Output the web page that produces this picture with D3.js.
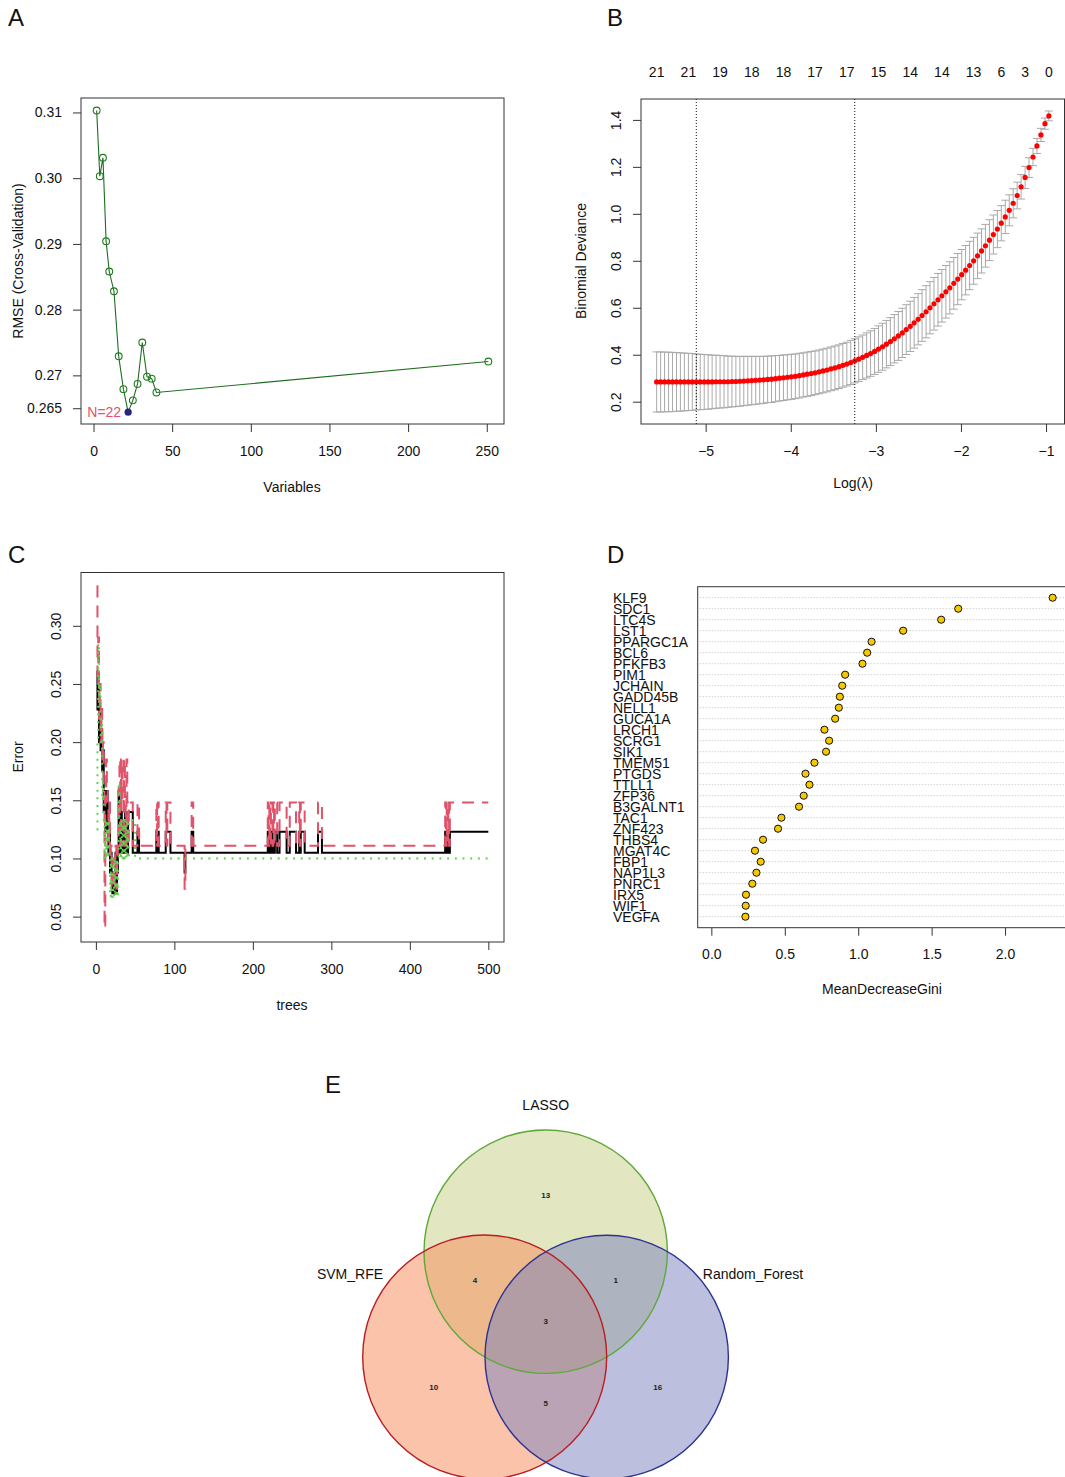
<!DOCTYPE html>
<html><head><meta charset="utf-8">
<script src="https://cdn.jsdelivr.net/npm/d3@7"></script>
<style>
body{margin:0;background:#fff;}
svg{display:block;font-family:"Liberation Sans",Arial,Helvetica,sans-serif;}
</style></head><body>
<svg id="fig" width="1065" height="1477"></svg>
<script>
// ---------- Panel A: SVM-RFE ----------
const rfeSizes = [2,4,6,8,10,13,16,19,22,25,28,31,34,37,40,251];
const rfeRMSE  = [0.3103,0.3003,0.3031,0.2904,0.2858,0.2828,0.2729,0.2679,0.2644,0.2662,0.2687,0.2750,0.2698,0.2695,0.2674,0.2721];
const rfeBest = 22;
const rfeXTicks = [0,50,100,150,200,250];
const rfeYTicks = [0.265,0.27,0.28,0.29,0.30,0.31];
const rfeYTickLabels = ["0.265","0.27","0.28","0.29","0.30","0.31"];

// ---------- Panel B: LASSO cv ----------
const logLambda = [-5.576,-5.529,-5.483,-5.436,-5.390,-5.343,-5.297,-5.250,-5.203,-5.157,
  -5.110,-5.064,-5.017,-4.971,-4.924,-4.878,-4.831,-4.784,-4.738,-4.691,
  -4.645,-4.598,-4.552,-4.505,-4.459,-4.412,-4.365,-4.319,-4.272,-4.226,
  -4.179,-4.133,-4.086,-4.040,-3.993,-3.946,-3.900,-3.853,-3.807,-3.760,
  -3.714,-3.667,-3.621,-3.574,-3.527,-3.481,-3.434,-3.388,-3.341,-3.295,
  -3.248,-3.202,-3.155,-3.108,-3.062,-3.015,-2.969,-2.922,-2.876,-2.829,
  -2.783,-2.736,-2.689,-2.643,-2.596,-2.550,-2.503,-2.457,-2.410,-2.364,
  -2.317,-2.270,-2.224,-2.177,-2.131,-2.084,-2.038,-1.991,-1.945,-1.898,
  -1.851,-1.805,-1.758,-1.712,-1.665,-1.619,-1.572,-1.526,-1.479,-1.432,
  -1.386,-1.339,-1.293,-1.246,-1.200,-1.153,-1.107,-1.060,-1.013,-0.967];
const cvMean = [0.284,0.284,0.284,0.284,0.284,0.284,0.284,0.284,0.284,0.284,
  0.284,0.284,0.284,0.284,0.284,0.285,0.285,0.285,0.285,0.286,
  0.286,0.287,0.288,0.289,0.290,0.291,0.292,0.293,0.295,0.296,
  0.298,0.300,0.302,0.304,0.306,0.308,0.311,0.314,0.317,0.320,
  0.323,0.327,0.331,0.335,0.340,0.344,0.349,0.355,0.360,0.367,
  0.374,0.381,0.389,0.397,0.405,0.414,0.424,0.434,0.445,0.456,
  0.468,0.480,0.493,0.507,0.521,0.536,0.551,0.567,0.583,0.600,
  0.617,0.634,0.651,0.668,0.685,0.704,0.722,0.741,0.760,0.780,
  0.800,0.821,0.842,0.864,0.888,0.912,0.935,0.960,0.987,1.015,
  1.045,1.078,1.115,1.155,1.197,1.242,1.289,1.336,1.384,1.417];
const cvSD = [0.128,0.128,0.127,0.127,0.126,0.125,0.124,0.123,0.122,0.121,
  0.119,0.118,0.117,0.116,0.114,0.113,0.112,0.111,0.109,0.108,
  0.107,0.106,0.105,0.104,0.103,0.102,0.101,0.100,0.099,0.099,
  0.098,0.097,0.097,0.096,0.096,0.095,0.095,0.094,0.094,0.094,
  0.093,0.093,0.093,0.093,0.093,0.093,0.093,0.093,0.093,0.094,
  0.094,0.095,0.095,0.096,0.097,0.098,0.099,0.100,0.101,0.102,
  0.103,0.104,0.105,0.106,0.107,0.108,0.109,0.110,0.111,0.111,
  0.112,0.112,0.112,0.112,0.111,0.110,0.109,0.107,0.105,0.103,
  0.100,0.097,0.094,0.091,0.087,0.083,0.079,0.075,0.071,0.066,
  0.062,0.057,0.052,0.047,0.042,0.037,0.032,0.028,0.024,0.021];
const lambdaMinLog = -5.110;
const lambda1seLog = -3.248;
const nzLabelPos = [-5.576,-5.203,-4.831,-4.459,-4.086,-3.714,-3.341,-2.969,-2.596,-2.224,-1.851,-1.526,-1.246,-0.967];
const nzLabels = ["21","21","19","18","18","17","17","15","14","14","13","6","3","0"];
const lassoXTicks = [-5,-4,-3,-2,-1];
const lassoYTicks = [0.2,0.4,0.6,0.8,1.0,1.2,1.4];

// ---------- Panel C: random forest error (step breakpoints [tree, error]) ----------
const rfOOB = [[1,0.261],[2,0.228],[3,0.245],[4,0.2],[5,0.228],[6,0.193],[7,0.21],[8,0.175],[9,0.193],[10,0.14],
  [11,0.158],[12,0.123],[13,0.14],[14,0.158],[15,0.123],[16,0.105],[17,0.123],[18,0.088],[19,0.105],[20,0.088],
  [21,0.07],[22,0.088],[23,0.07],[24,0.088],[25,0.105],[26,0.07],[27,0.088],[28,0.105],[29,0.158],[30,0.123],
  [31,0.105],[32,0.14],[33,0.105],[34,0.123],[35,0.105],[36,0.123],[37,0.14],[38,0.105],[39,0.123],[40,0.105],
  [41,0.14],[47,0.105],[53,0.123],[55,0.105],[77,0.123],[78,0.105],[79,0.123],[80,0.105],[89,0.123],[95,0.105],
  [113,0.088],[114,0.105],[122,0.123],[124,0.105],[219,0.123],[220,0.105],[221,0.123],[222,0.105],[223,0.123],[225,0.105],
  [226,0.123],[227,0.105],[228,0.123],[231,0.105],[234,0.123],[243,0.105],[247,0.123],[255,0.105],[259,0.123],[260,0.105],
  [261,0.123],[266,0.105],[283,0.123],[288,0.105],[445,0.123],[446,0.105],[447,0.123],[448,0.105],[449,0.123],[450,0.105],[451,0.123]];
const rfClass1 = [[1,0.334],[2,0.25],[3,0.29],[4,0.22],[5,0.25],[6,0.2],[7,0.23],[8,0.185],[9,0.2],[10,0.16],
  [11,0.04],[12,0.148],[13,0.185],[14,0.16],[15,0.148],[16,0.111],[17,0.148],[18,0.1],[19,0.111],[20,0.074],
  [21,0.074],[22,0.1],[23,0.074],[24,0.1],[25,0.111],[26,0.074],[27,0.1],[28,0.111],[29,0.16],[30,0.185],
  [31,0.111],[32,0.185],[33,0.148],[34,0.185],[35,0.111],[36,0.185],[37,0.148],[38,0.111],[39,0.185],[40,0.148],
  [41,0.111],[42,0.148],[47,0.111],[53,0.148],[55,0.111],[77,0.148],[78,0.111],[79,0.148],[80,0.111],[89,0.148],
  [90,0.111],[91,0.148],[95,0.111],[113,0.074],[114,0.111],[122,0.148],[124,0.111],[219,0.148],[220,0.111],[221,0.148],
  [222,0.111],[223,0.148],[225,0.111],[226,0.148],[227,0.111],[228,0.148],[231,0.111],[234,0.148],[243,0.111],[247,0.148],
  [255,0.111],[259,0.148],[260,0.111],[261,0.148],[266,0.111],[283,0.148],[288,0.111],[445,0.148],[446,0.111],[447,0.148],
  [448,0.111],[449,0.148],[450,0.111],[451,0.148]];
const rfClass2 = [[1,0.125],[2,0.2],[3,0.285],[4,0.235],[5,0.25],[6,0.2],[7,0.22],[8,0.15],[9,0.165],[10,0.13],
  [11,0.1],[12,0.133],[13,0.1],[14,0.133],[15,0.1],[16,0.133],[17,0.1],[18,0.067],[19,0.1],[20,0.067],
  [21,0.067],[22,0.1],[23,0.067],[24,0.1],[25,0.067],[26,0.1],[27,0.067],[28,0.1],[29,0.165],[30,0.133],
  [31,0.1],[32,0.133],[33,0.1],[34,0.133],[35,0.1],[36,0.133],[37,0.1],[38,0.133],[39,0.1],[40,0.133],
  [41,0.1],[42,0.133],[50,0.1]];
const rfTrees = 500;
const rfXTicks = [0,100,200,300,400,500];
const rfYTicks = [0.05,0.10,0.15,0.20,0.25,0.30];

// ---------- Panel D: variable importance ----------
const genes = ["KLF9","SDC1","LTC4S","LST1","PPARGC1A","BCL6","PFKFB3","PIM1","JCHAIN","GADD45B",
  "NELL1","GUCA1A","LRCH1","SCRG1","SIK1","TMEM51","PTGDS","TTLL1","ZFP36","B3GALNT1",
  "TAC1","ZNF423","THBS4","MGAT4C","FBP1","NAP1L3","PNRC1","IRX5","WIF1","VEGFA"];
const gini = [2.324,1.681,1.565,1.306,1.091,1.061,1.029,0.911,0.891,0.875,
  0.868,0.843,0.770,0.802,0.781,0.702,0.641,0.668,0.629,0.597,
  0.477,0.454,0.352,0.297,0.336,0.307,0.279,0.236,0.234,0.232];
const giniXTicks = [0,0.5,1.0,1.5,2.0];

// ---------- Panel E: Venn ----------
const vennSets = ["LASSO","SVM_RFE","Random_Forest"];
const vennRegions = ["L","S","R","LS","LR","SR","LSR"];
const vennCounts = [13,10,16,4,1,5,3];

// =====================================================
const svg = d3.select("#fig");
const FS = 14;

function box(g,x0,y0,x1,y1){
  g.append("rect").attr("x",x0).attr("y",y0).attr("width",x1-x0).attr("height",y1-y0)
   .attr("fill","none").attr("stroke","#333").attr("stroke-width",1);
}
function styleAxis(a){
  a.select(".domain").remove();
  a.selectAll("line").attr("stroke","#333");
  a.selectAll("text").attr("font-size",FS).attr("fill","#111").attr("font-family",null);
}
function letter(t,x,y){
  svg.append("text").attr("x",x).attr("y",y).attr("font-size",24).attr("fill","#111").text(t);
}
function rotTitle(t,x,y){
  svg.append("text").attr("transform",`translate(${x},${y}) rotate(-90)`).attr("text-anchor","middle")
   .attr("dominant-baseline","central").attr("font-size",FS).attr("fill","#111").text(t);
}
function title(t,x,y){
  svg.append("text").attr("x",x).attr("y",y).attr("text-anchor","middle")
   .attr("dominant-baseline","central").attr("font-size",FS).attr("fill","#111").text(t);
}

// ---------- A ----------
(function(){
  const L=81,T=98,R=504,B=424;
  const x=d3.scaleLinear().domain([-7.96,260.96]).range([L,R]);
  const y=d3.scaleLinear().domain([0.2626,0.3122]).range([B,T]);
  const g=svg.append("g");
  box(g,L,T,R,B);
  const ax=g.append("g").attr("transform",`translate(0,${B})`)
    .call(d3.axisBottom(x).tickValues(rfeXTicks).tickSize(8).tickPadding(14).tickSizeOuter(0));
  styleAxis(ax);
  const ay=g.append("g").attr("transform",`translate(${L},0)`)
    .call(d3.axisLeft(y).tickValues(rfeYTicks).tickFormat((d,i)=>rfeYTickLabels[i]).tickSize(8).tickPadding(11).tickSizeOuter(0));
  styleAxis(ay);
  const pts=rfeSizes.map((s,i)=>[s,rfeRMSE[i]]);
  g.append("path").attr("d",d3.line().x(d=>x(d[0])).y(d=>y(d[1]))(pts))
    .attr("fill","none").attr("stroke","#1f6e1f").attr("stroke-width",1.1);
  g.selectAll("circle.o").data(pts.filter(d=>d[0]!==rfeBest)).join("circle")
    .attr("cx",d=>x(d[0])).attr("cy",d=>y(d[1])).attr("r",3.4)
    .attr("fill","none").attr("stroke","#1f7a1f").attr("stroke-width",1.1);
  const best=pts.find(d=>d[0]===rfeBest);
  g.append("circle").attr("cx",x(best[0])).attr("cy",y(best[1])).attr("r",3.6).attr("fill","#26267e");
  g.append("text").attr("x",x(best[0])-7).attr("y",y(best[1])).attr("text-anchor","end")
    .attr("dominant-baseline","central").attr("font-size",FS).attr("fill","#E8506A").text("N="+rfeBest);
  title("Variables",292,487);
  rotTitle("RMSE (Cross-Validation)",18,261);
  letter("A",8,26);
})();

// ---------- B ----------
(function(){
  const L=641,T=99,R=1064.5,B=424;
  const x=d3.scaleLinear().domain([-5.76,-0.783]).range([L,R]);
  const y=d3.scaleLinear().domain([0.105,1.489]).range([B,T]);
  const g=svg.append("g");
  const ax=g.append("g").attr("transform",`translate(0,${B})`)
    .call(d3.axisBottom(x).tickValues(lassoXTicks).tickFormat(d3.format("d")).tickSize(8).tickPadding(14).tickSizeOuter(0));
  styleAxis(ax);
  const ay=g.append("g").attr("transform",`translate(${L},0)`)
    .call(d3.axisLeft(y).tickValues(lassoYTicks).tickFormat(d3.format(".1f")).tickSize(8).tickSizeOuter(0));
  styleAxis(ay);
  ay.selectAll("text").attr("transform","rotate(-90)").attr("x",0).attr("y",-20).attr("dy",0)
    .attr("text-anchor","middle");
  // error bars
  const eb=g.append("g").attr("stroke","#a9a9a9").attr("stroke-width",1);
  logLambda.forEach((l,i)=>{
    const xx=x(l), y1=y(cvMean[i]+cvSD[i]), y2=y(cvMean[i]-cvSD[i]);
    eb.append("line").attr("x1",xx).attr("x2",xx).attr("y1",y1).attr("y2",y2);
    eb.append("line").attr("x1",xx-4).attr("x2",xx+4).attr("y1",y1).attr("y2",y1);
    eb.append("line").attr("x1",xx-4).attr("x2",xx+4).attr("y1",y2).attr("y2",y2);
  });
  g.selectAll("circle.m").data(logLambda).join("circle")
    .attr("cx",d=>x(d)).attr("cy",(d,i)=>y(cvMean[i])).attr("r",2.6).attr("fill","#ff0000");
  [lambdaMinLog,lambda1seLog].forEach(v=>{
    g.append("line").attr("x1",x(v)).attr("x2",x(v)).attr("y1",T).attr("y2",B)
      .attr("stroke","#111").attr("stroke-width",1).attr("stroke-dasharray","1,2");
  });
  box(g,L,T,R,B);
  g.selectAll("text.nz").data(nzLabels).join("text")
    .attr("x",(d,i)=>x(nzLabelPos[i])).attr("y",72).attr("text-anchor","middle")
    .attr("dominant-baseline","central").attr("font-size",FS).attr("fill","#111").text(d=>d);
  title("Log(\u03BB)",853,483);
  rotTitle("Binomial Deviance",581,261);
  letter("B",607,26);
})();

// ---------- C ----------
(function(){
  const L=81,T=572.5,R=504,B=942;
  const x=d3.scaleLinear().domain([-18.96,519.96]).range([L,R]);
  const y=d3.scaleLinear().domain([0.0282,0.3458]).range([B,T]);
  const g=svg.append("g");
  box(g,L,T,R,B);
  const ax=g.append("g").attr("transform",`translate(0,${B})`)
    .call(d3.axisBottom(x).tickValues(rfXTicks).tickSize(8).tickPadding(14).tickSizeOuter(0));
  styleAxis(ax);
  const ay=g.append("g").attr("transform",`translate(${L},0)`)
    .call(d3.axisLeft(y).tickValues(rfYTicks).tickFormat(d3.format(".2f")).tickSize(8).tickSizeOuter(0));
  styleAxis(ay);
  ay.selectAll("text").attr("transform","rotate(-90)").attr("x",0).attr("y",-20).attr("dy",0)
    .attr("text-anchor","middle");
  const line=d3.line().x(d=>x(d[0])).y(d=>y(d[1])).curve(d3.curveStepAfter);
  const full=s=>s.concat([[rfTrees,s[s.length-1][1]]]);
  g.append("path").attr("d",line(full(rfOOB))).attr("fill","none").attr("stroke","#000").attr("stroke-width",2);
  g.append("path").attr("d",line(full(rfClass1))).attr("fill","none").attr("stroke","#DF536B")
    .attr("stroke-width",2).attr("stroke-dasharray","12,8");
  g.append("path").attr("d",line(full(rfClass2))).attr("fill","none").attr("stroke","#61D04F")
    .attr("stroke-width",2).attr("stroke-dasharray","2,5.7");
  title("trees",292,1005);
  rotTitle("Error",18,757);
  letter("C",8,563);
})();

// ---------- D ----------
(function(){
  const L=697.7,T=586.7,R=1066.3,B=927.7;
  const x=d3.scaleLinear().domain([-0.093,2.417]).range([L,R]);
  const y=d3.scaleLinear().domain([0,genes.length+1]).range([B,T]);
  const g=svg.append("g");
  const rowY=i=>y(genes.length-i);
  g.selectAll("line.r").data(genes).join("line")
    .attr("x1",L+2).attr("x2",R).attr("y1",(d,i)=>rowY(i)).attr("y2",(d,i)=>rowY(i))
    .attr("stroke","#bdbdbd").attr("stroke-width",1).attr("stroke-dasharray","1,2");
  box(g,L,T,R,B);
  const ax=g.append("g").attr("transform",`translate(0,${B})`)
    .call(d3.axisBottom(x).tickValues(giniXTicks).tickFormat(d3.format(".1f")).tickSize(8).tickPadding(13).tickSizeOuter(0));
  styleAxis(ax);
  g.selectAll("circle.d").data(gini).join("circle")
    .attr("cx",d=>x(d)).attr("cy",(d,i)=>rowY(i)).attr("r",3.6)
    .attr("fill","#F7C800").attr("stroke","#111").attr("stroke-width",1);
  g.selectAll("text.g").data(genes).join("text")
    .attr("x",613).attr("y",(d,i)=>rowY(i)).attr("dominant-baseline","central")
    .attr("font-size",FS).attr("fill","#111").text(d=>d);
  title("MeanDecreaseGini",882,989);
  letter("D",607,563);
})();

// ---------- E ----------
(function(){
  const circles=[
    {cx:545.7,cy:1251.7,r:121.7,fill:"#C5CD83",stroke:"#5FA83A"},
    {cx:484.7,cy:1357,r:122,fill:"#F78955",stroke:"#B81D24"},
    {cx:606.7,cy:1357,r:121.7,fill:"#7981BD",stroke:"#2B3391"}
  ];
  const g=svg.append("g");
  circles.forEach(c=>g.append("circle").attr("cx",c.cx).attr("cy",c.cy).attr("r",c.r)
    .attr("fill",c.fill).attr("fill-opacity",0.5));
  circles.forEach(c=>g.append("circle").attr("cx",c.cx).attr("cy",c.cy).attr("r",c.r)
    .attr("fill","none").attr("stroke",c.stroke).attr("stroke-width",1.4));
  const pos={L:[545.7,1195],S:[433.7,1387],R:[657.7,1387],LS:[475,1280],LR:[615.7,1280],SR:[545.7,1403.7],LSR:[545.7,1321]};
  vennRegions.forEach((k,i)=>{
    g.append("text").attr("x",pos[k][0]).attr("y",pos[k][1]).attr("text-anchor","middle")
      .attr("dominant-baseline","central").attr("font-size",8).attr("font-weight","bold").attr("fill","#222").text(vennCounts[i]);
  });
  const lab=[[545.7,1105,"middle"],[350,1274,"middle"],[753,1274,"middle"]];
  vennSets.forEach((s,i)=>{
    g.append("text").attr("x",lab[i][0]).attr("y",lab[i][1]).attr("text-anchor",lab[i][2])
      .attr("dominant-baseline","central").attr("font-size",FS).attr("fill","#111").text(s);
  });
  letter("E",325,1093);
})();
</script>
</body></html>
